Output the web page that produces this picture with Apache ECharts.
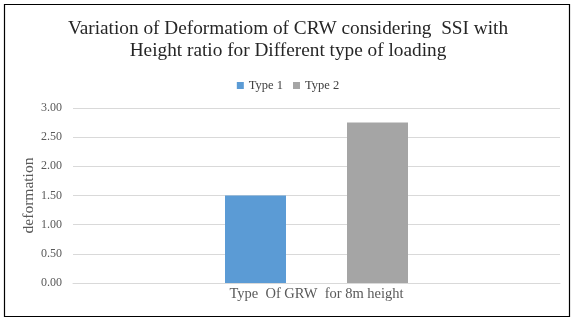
<!DOCTYPE html>
<html><head><meta charset="utf-8">
<script src="https://cdn.jsdelivr.net/npm/echarts@6/dist/echarts.min.js"></script>
<style>html,body{margin:0;padding:0;background:#fff}#c{width:576px;height:322px}</style>
</head><body><div id="c"></div>
<script>
const categories = ['Type  Of GRW  for 8m height'];
const seriesNames = ['Type 1', 'Type 2'];
const type1 = [1.50];
const type2 = [2.75];
const yTicks = [0, 0.5, 1, 1.5, 2, 2.5, 3];

const F = '"Liberation Serif", "Times New Roman", serif';
const chart = echarts.init(document.getElementById('c'));
chart.setOption({
  animation: false,
  backgroundColor: '#fff',
  title: {
    text: 'Variation of Deformatiom of CRW considering  SSI with\nHeight ratio for Different type of loading',
    left: 'center', top: 13,
    textStyle: { fontFamily: F, fontSize: 19.3, fontWeight: 'normal', color: '#262626', lineHeight: 22 }
  },
  legend: {
    top: 74, left: 'center', itemWidth: 7, itemHeight: 7, itemGap: 10,
    icon: 'rect',
    textStyle: { fontFamily: F, fontSize: 12.5, color: '#404040' },
    data: seriesNames
  },
  graphic: [{ type: 'rect', shape: { x: 4.5, y: 4.5, width: 565, height: 312 },
    style: { fill: 'none', stroke: '#000', lineWidth: 1.2 } }],
  grid: { left: 73, right: 16, top: 108, bottom: 39, containLabel: false },
  xAxis: {
    type: 'category', data: categories,
    axisLine: { show: true, lineStyle: { color: '#d9d9d9' } },
    axisTick: { show: false },
    axisLabel: { fontFamily: F, fontSize: 14.5, color: '#595959', margin: 4 }
  },
  yAxis: {
    type: 'value', min: yTicks[0], max: yTicks[yTicks.length - 1], interval: 0.5,
    name: 'deformation', nameLocation: 'middle', nameGap: 36, nameMoveOverlap: false,
    nameTextStyle: { fontFamily: F, fontSize: 15.5, color: '#595959' },
    axisLine: { show: false }, axisTick: { show: false },
    splitLine: { lineStyle: { color: '#d9d9d9', width: 1 } },
    axisLabel: { fontFamily: F, fontSize: 12, color: '#595959', margin: 11,
      formatter: v => v.toFixed(2) }
  },
  series: [
    { name: seriesNames[0], type: 'bar', data: type1, barWidth: 61, barGap: '100%',
      itemStyle: { color: '#5b9bd5' } },
    { name: seriesNames[1], type: 'bar', data: type2, barWidth: 61,
      itemStyle: { color: '#a5a5a5' } }
  ]
});
</script></body></html>
